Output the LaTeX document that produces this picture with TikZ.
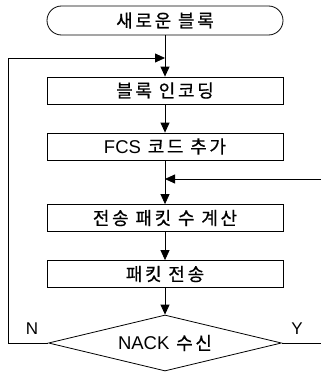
\documentclass[tikz,border=0pt]{standalone}
\usepackage{fontspec}
\newfontfamily\kr[LetterSpace=15,FakeBold=0.6]{Noto Sans CJK KR}
\newfontfamily\lat{Liberation Sans}
\usetikzlibrary{shapes.misc,shapes.geometric,arrows.meta}
\begin{document}
\begin{tikzpicture}[x=1pt,y=-1pt,
  every node/.style={font=\kr\fontsize{18}{20}\selectfont},
  procbox/.style={draw,line width=0.8pt,minimum width=236pt,minimum height=27pt,inner sep=0pt},
  termbox/.style={draw,line width=0.8pt,rounded rectangle,minimum width=236pt,minimum height=29pt,inner sep=0pt},
  decbox/.style={draw,line width=0.8pt,diamond,aspect=4.16,minimum width=233pt,minimum height=56pt,inner sep=0pt},
  flow/.style={line width=0.8pt,-{Triangle[length=10pt,width=9pt]}},
  plain/.style={line width=0.8pt},
  lbl/.style={font=\lat\fontsize{17}{19}\selectfont}]
\useasboundingbox (0,0) rectangle (321,372);
\node[termbox] (t) at (165,20.5) {새로운 블록};
\node[procbox] (b1) at (165,90.5) {블록 인코딩};
\node[procbox] (b2) at (165,146.5) {{\lat\fontsize{18.5}{20}\selectfont FCS} 코드 추가};
\node[procbox] (b3) at (165,218) {전송 패킷 수 계산};
\node[procbox] (b4) at (165,274) {패킷 전송};
\node[decbox] (d) at (165,343) {{\lat\fontsize{18.5}{20}\selectfont NACK} 수신};
\coordinate (fb) at (165,58);
\coordinate (fl1) at (8,343);
\coordinate (fl2) at (8,58);
\coordinate (jn) at (165,179);
\coordinate (rin) at (321,179);
\coordinate (yout) at (321,343);
\node[lbl] (n) at (32,329) {N};
\node[lbl] (y) at (297,329) {Y};
\draw[flow] (t.south) -- (b1.north);
\draw[flow] (b1.south) -- (b2.north);
\draw[flow] (b2.south) -- (b3.north);
\draw[flow] (b3.south) -- (b4.north);
\draw[flow] (b4.south) -- (d.north);
\draw[flow] (d.west) -- (fl1) -- (fl2) -- (fb);
\draw[flow] (rin) -- (jn);
\draw[plain] (d.east) -- (yout);
\end{tikzpicture}
\end{document}
